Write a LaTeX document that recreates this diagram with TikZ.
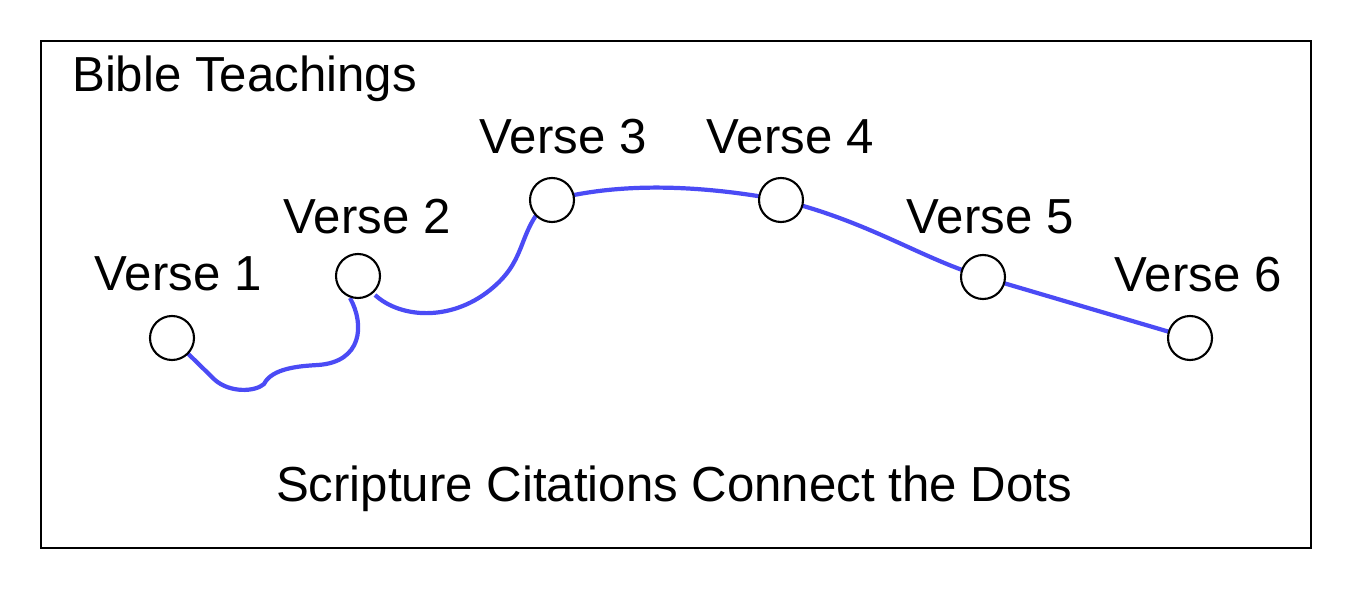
\documentclass[tikz,border=0pt]{standalone}
\usepackage{fontspec}
\setmainfont{Liberation Sans}
\begin{document}
\begin{tikzpicture}[x=0.02cm,y=-0.02cm,
  dot/.style={circle,draw,line width=1.2pt,fill=white,minimum size=0.88cm,inner sep=0},
  lab/.style={font=\fontsize{28}{32}\selectfont},
  link/.style={draw={rgb,255:red,75;green,75;blue,245},line width=2.4pt}]
\useasboundingbox (0,0) rectangle (1354,594);
\node[draw,line width=1.2pt,minimum width=25.4cm,minimum height=10.14cm,anchor=north west,inner sep=0] (frame) at (40,40) {};
\node[lab,anchor=west] (title) at (66,79) {Bible Teachings};
\node[lab] (foot) at (674,489) {Scripture Citations Connect the Dots};
\coordinate (a) at (264,384); \coordinate (b) at (318,365); \coordinate (c) at (490,290);
\draw[link] (172,338) -- (215,380) .. controls (230,393) and (255,392) .. (a) .. controls (272,368) and (300,366) .. (b) .. controls (362,362) and (365,325) .. (350,298);
\draw[link] (375,295) .. controls (400,318) and (450,322) .. (c) .. controls (525,262) and (518,238) .. (540,210);
\draw[link] (552,200) .. controls (620,182) and (700,185) .. (781,200);
\draw[link] (781,200) .. controls (870,222) and (920,258) .. (983,277);
\draw[link] (983,277) -- (1190,338);
\node[dot] (v1) at (172,338) {};
\node[dot] (v2) at (358,276) {};
\node[dot] (v3) at (552,200) {};
\node[dot] (v4) at (781,200) {};
\node[dot] (v5) at (983,277) {};
\node[dot] (v6) at (1190,338) {};
\node[lab] at (178,274) {Verse 1};
\node[lab] at (367,217) {Verse 2};
\node[lab] at (563,137) {Verse 3};
\node[lab] at (790,137) {Verse 4};
\node[lab] at (990,217) {Verse 5};
\node[lab] at (1198,275) {Verse 6};
\end{tikzpicture}
\end{document}
